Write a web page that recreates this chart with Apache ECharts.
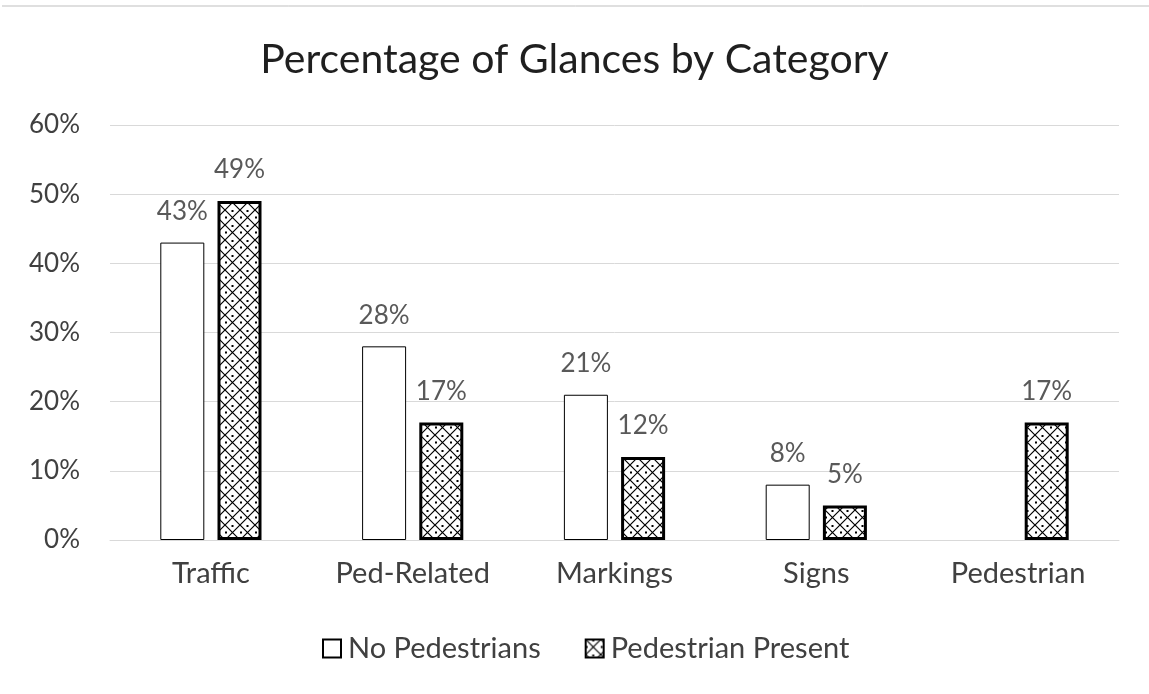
<!DOCTYPE html>
<html lang="en">
<head>
  <meta charset="UTF-8">
  <title>Percentage of Glances by Category</title>
  <style>
    html, body { margin: 0; padding: 0; background: #fff; }
  </style>
</head>
<body>
  <div id="main" style="width: 1149px;height:694px;"></div>

  <script src="https://cdn.jsdelivr.net/npm/echarts@6/dist/echarts.min.js"></script>
  <script>
    const categories = ['Traffic', 'Ped-Related', 'Markings', 'Signs', 'Pedestrian'];
    const noPedestrians = [43, 28, 21, 8, null];
    const pedestrianPresent = [49, 17, 12, 5, 17];
    const yTicks = [0, 10, 20, 30, 40, 50, 60];

    // cross hatch tile
    function makeHatch() {
      const s = 15;
      const c = document.createElement('canvas');
      c.width = s; c.height = s;
      const ctx = c.getContext('2d');
      ctx.fillStyle = '#fff';
      ctx.fillRect(0, 0, s, s);
      ctx.strokeStyle = '#000';
      ctx.lineWidth = 1.2;
      ctx.beginPath();
      ctx.moveTo(0, 0); ctx.lineTo(s, s);
      ctx.moveTo(s, 0); ctx.lineTo(0, s);
      ctx.stroke();
      ctx.fillStyle = '#000';
      ctx.fillRect(s / 2 - 1, 0, 2, 2);
      ctx.fillRect(0, s / 2 - 1, 2, 2);
      return c;
    }
    const hatch = { image: makeHatch(), repeat: 'repeat' };

    const myChart = echarts.init(document.getElementById('main'));
    const font = 'Lato, "Open Sans", sans-serif';

    const options = {
      backgroundColor: '#fff',
      animation: false,
      title: {
        text: 'Percentage of Glances by Category',
        left: 'center',
        top: 34,
        textStyle: { fontFamily: font, fontSize: 41, fontWeight: 'normal', color: '#1f1f1f' }
      },
      graphic: [{
        type: 'line',
        shape: { x1: 2, y1: 6, x2: 1149, y2: 6 },
        style: { stroke: '#bfbfbf', lineWidth: 1 }
      }],
      legend: {
        top: 629,
        left: 317,
        icon: 'rect',
        itemWidth: 18,
        itemHeight: 18,
        itemGap: 44,
        textStyle: { fontFamily: font, fontSize: 29, color: '#404040', padding: [0, 0, 0, 2] },
        data: ['No Pedestrians', 'Pedestrian Present']
      },
      grid: { left: 110, right: 30, top: 125, bottom: 154 },
      xAxis: {
        type: 'category',
        data: categories,
        axisTick: { show: false },
        axisLine: { lineStyle: { color: '#d9d9d9' } },
        axisLabel: { fontFamily: font, fontSize: 29, color: '#404040', margin: 19 }
      },
      yAxis: {
        type: 'value',
        min: yTicks[0],
        max: yTicks[yTicks.length - 1],
        interval: 10,
        axisLabel: { fontFamily: font, fontSize: 26, color: '#404040', margin: 30, formatter: '{value}%' },
        splitLine: { lineStyle: { color: '#d9d9d9' } },
        axisLine: { show: false },
        axisTick: { show: false }
      },
      series: [{
        name: 'No Pedestrians',
        type: 'bar',
        barWidth: 44,
        barGap: '30%',
        itemStyle: { color: '#fff', borderColor: '#000', borderWidth: 1 },
        label: {
          show: true, position: 'top', distance: 18,
          fontFamily: font, fontSize: 26, color: '#595959', formatter: '{c}%'
        },
        data: noPedestrians
      }, {
        name: 'Pedestrian Present',
        type: 'bar',
        barWidth: 44,
        itemStyle: { color: hatch, borderColor: '#000', borderWidth: 3 },
        label: {
          show: true, position: 'top', distance: 18,
          fontFamily: font, fontSize: 26, color: '#595959', formatter: '{c}%'
        },
        data: pedestrianPresent
      }]
    };

    myChart.setOption(options);
  </script>
</body>
</html>
